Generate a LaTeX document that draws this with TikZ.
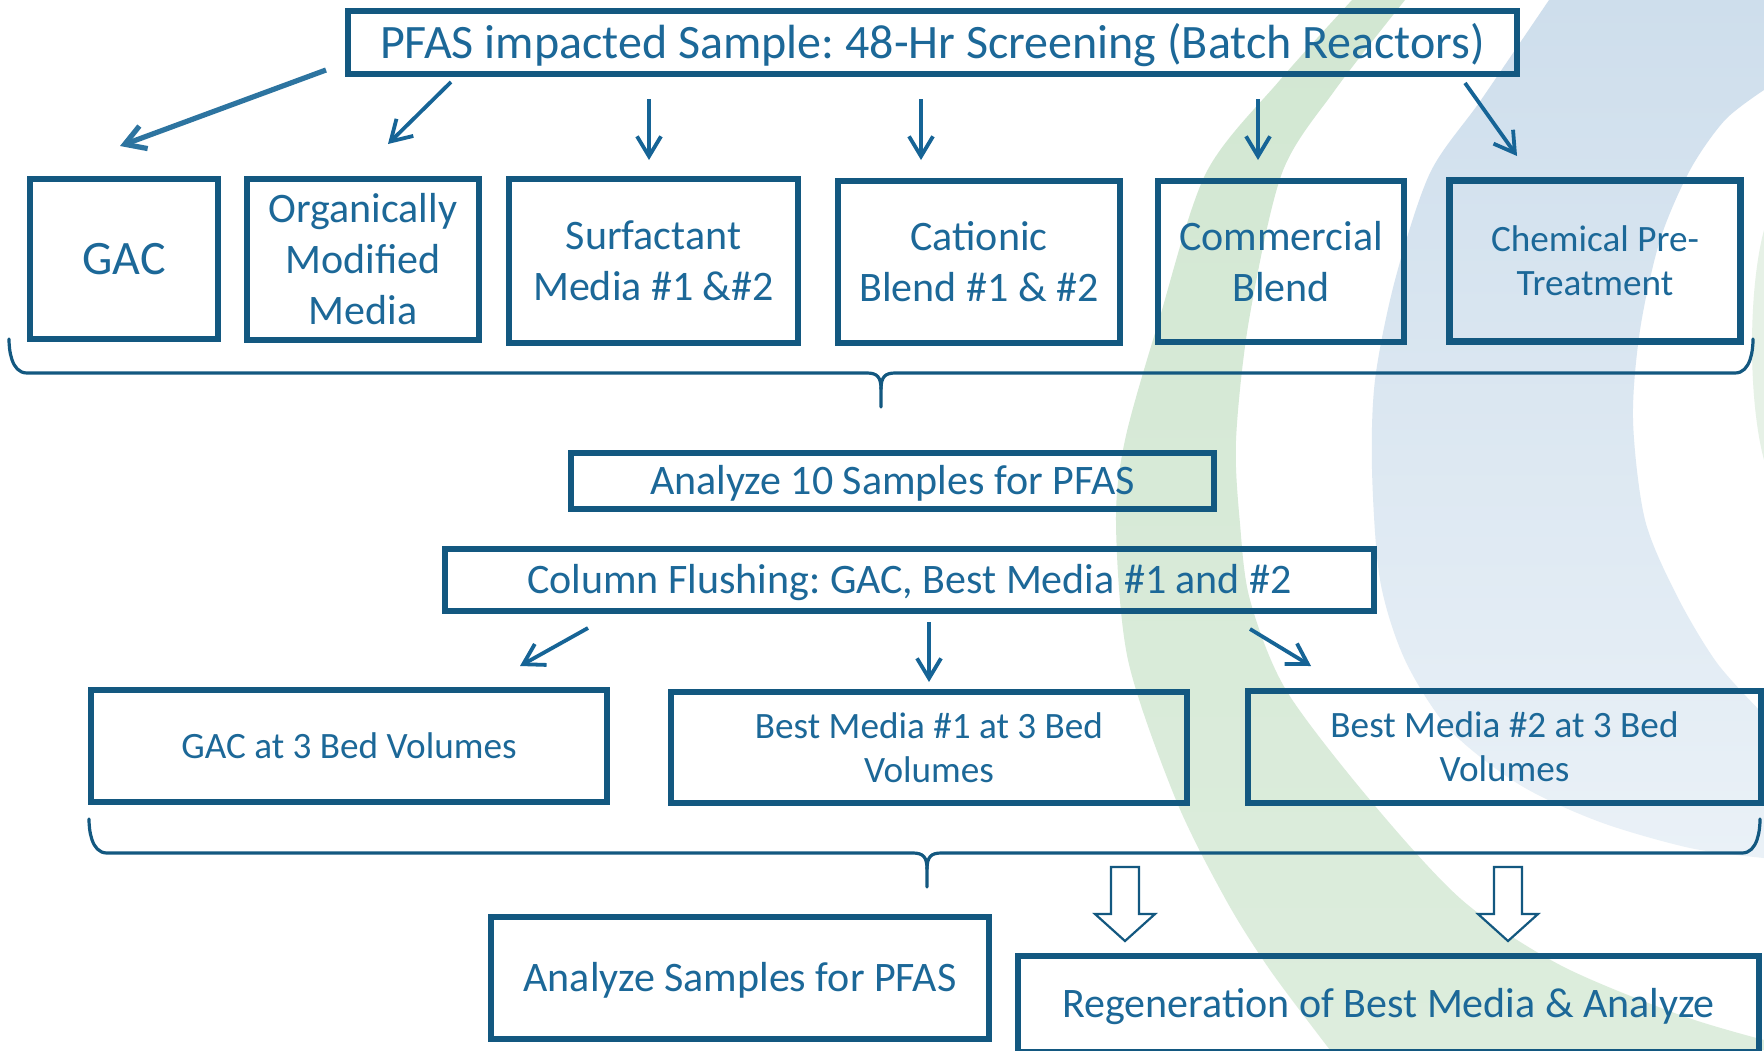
\documentclass[tikz,border=0pt]{standalone}
\usepackage{fontspec}
\setmainfont{Carlito}
\usetikzlibrary{arrows.meta}
\frenchspacing

\definecolor{boxblue}{RGB}{19,88,128}
\definecolor{txtblue}{RGB}{28,104,152}
\definecolor{arrblue}{RGB}{22,100,150}
\definecolor{ringgreenA}{RGB}{210,231,210}
\definecolor{ringgreenB}{RGB}{221,237,221}
\definecolor{ringblueA}{RGB}{206,222,236}
\definecolor{ringblueB}{RGB}{234,241,247}
\definecolor{ringgreenC}{RGB}{230,241,230}

% bracket with a downward tip: left x, right x, top y, line y, tip x, tip y
\newcommand\flowbrace[6]{%
  \draw[bracket] (#1,#3) .. controls (#1,#4-24) and (#1+2,#4) .. (#1+18,#4)
     -- (#5-14,#4) .. controls (#5-4,#4) and (#5,#4+4) .. (#5,#4+16) -- (#5,#6);
  \draw[bracket] (#2,#3) .. controls (#2,#4-24) and (#2-2,#4) .. (#2-18,#4)
     -- (#5+14,#4) .. controls (#5+4,#4) and (#5,#4+4) .. (#5,#4+16);
}

\begin{document}
\begin{tikzpicture}[x=0.5pt,y=-0.5pt,
  box/.style={draw=boxblue, line width=2.75pt, inner sep=0pt, outer sep=0pt,
              text=txtblue, align=center},
  bigtxt/.style={font=\fontsize{24pt}{29pt}\selectfont},
  midtxt/.style={font=\fontsize{21pt}{25.5pt}\selectfont},
  smalltxt/.style={font=\fontsize{18.6pt}{22pt}\selectfont},
  % single lines: centre the capitals in the box
  capbig/.style={text height=15.5pt, text depth=0pt},
  capmid/.style={text height=13.5pt, text depth=0pt},
  capsmall/.style={text height=12pt, text depth=0pt},
  flow/.style={draw=arrblue, line width=1.9pt,
               -{Straight Barb[length=10pt,width=12pt]}},
  bracket/.style={draw=boxblue, line width=1.6pt, line cap=round},
  hollow/.style={draw=boxblue, line width=1.1pt, fill=white, line join=miter},
  downarrow/.pic={\path[hollow] (-14,0) -- (14,0) -- (14,47) -- (30,47)
                   -- (0,74) -- (-30,47) -- (-14,47) -- cycle;}
]
\useasboundingbox (0,0) rectangle (1764,1050);
\clip (0,0) rectangle (1764,1050);
\fill[white] (0,0) rectangle (1764,1050);

% ---- background rings ----
\shade[top color=ringgreenA, bottom color=ringgreenB]
  plot[smooth] coordinates {(1352,0) (1280,80) (1206,173) (1159,320) (1125,440)
    (1116,524) (1128,660) (1176,800) (1226,900) (1270,970) (1330,1050)}
  -- (1764,1050)
  -- plot[smooth] coordinates {(1764,1040) (1680,1015) (1560,965) (1462,900)
    (1370,800) (1286,690) (1250,600) (1240,524) (1236,440) (1249,320)
    (1282,173) (1335,90) (1405,0)}
  -- cycle;
\shade[top color=ringblueA, bottom color=ringblueB]
  plot[smooth] coordinates {(1549,0) (1481,100) (1430,173) (1395,280) (1375,380)
    (1372,470) (1380,580) (1405,660) (1450,730) (1520,785) (1600,822)
    (1690,848) (1764,858)}
  -- plot[smooth] coordinates {(1764,715) (1717,663) (1677,596) (1645,520)
    (1633,420) (1640,330) (1660,240) (1690,170) (1725,120) (1764,90)}
  -- (1764,0) -- cycle;
\fill[ringgreenC] (1764,230) .. controls (1748,290) and (1748,400) .. (1764,460) -- cycle;

% ---- boxes ----
\node[box, bigtxt, capbig, minimum width=584.5pt, minimum height=31.5pt] (top) at (932.5,42.5)
  {PFAS impacted Sample: 48-Hr Screening (Batch Reactors)};

\node[box, bigtxt, capbig, minimum width=94pt, minimum height=80pt] (gac) at (124,259) {GAC};
\node[box, midtxt, minimum width=116pt, minimum height=80.5pt] (omm) at (363,259.5)
  {Organically\\Modified\\Media};
\node[box, midtxt, minimum width=144.5pt, minimum height=82pt] (surf) at (653.5,261)
  {Surfactant\\Media \#1 \&\#2};
\node[box, midtxt, minimum width=141pt, minimum height=81pt] (cat) at (979,262)
  {Cationic\\Blend \#1 \& \#2};
\node[box, midtxt, minimum width=123pt, minimum height=80.5pt] (comm) at (1281,261.5)
  {Commercial\\Blend};
\node[box, smalltxt, line width=3.1pt, minimum width=145.5pt, minimum height=80.5pt] (chem) at (1595,261)
  {Chemical Pre-\\Treatment};

\node[box, midtxt, capmid, minimum width=321.5pt, minimum height=28pt] (an10) at (892.5,481)
  {Analyze 10 Samples for PFAS};
\node[box, midtxt, capmid, minimum width=464.5pt, minimum height=31pt] (col) at (909.5,580)
  {Column Flushing: GAC, Best Media \#1 and \#2};

\node[box, smalltxt, capsmall, minimum width=258pt, minimum height=56pt] (gac3) at (349,746)
  {GAC at 3 Bed Volumes};
\node[box, smalltxt, minimum width=258pt, minimum height=55.5pt] (bm1) at (929,747.5)
  {Best Media \#1 at 3 Bed\\Volumes};
\node[box, smalltxt, minimum width=256.5pt, minimum height=56pt] (bm2) at (1504.5,747)
  {Best Media \#2 at 3 Bed\\Volumes};

\node[box, midtxt, capmid, minimum width=249pt, minimum height=61pt] (ans) at (740,978)
  {Analyze Samples for PFAS};
\node[box, midtxt, capmid, minimum width=370.5pt, minimum height=48pt] (regen) at (1388.5,1004)
  {Regeneration of Best Media \& Analyze};

% ---- arrow ends ----
\coordinate (a1s) at (326,70);   \coordinate (a1e) at (120,146);
\coordinate (a2s) at (451,82);   \coordinate (a2e) at (388,144);
\coordinate (a3s) at (649,99);   \coordinate (a3e) at (649,160);
\coordinate (a4s) at (921,99);   \coordinate (a4e) at (921,160);
\coordinate (a5s) at (1258,99);  \coordinate (a5e) at (1258,160);
\coordinate (a6s) at (1465,83);  \coordinate (a6e) at (1517,156);
\coordinate (b1s) at (588,628);  \coordinate (b1e) at (520,666);
\coordinate (b2s) at (929,622);  \coordinate (b2e) at (929,682);
\coordinate (b3s) at (1250,629); \coordinate (b3e) at (1311,666);

% ---- arrows from the screening box ----
\draw[flow, line width=2.6pt, draw=arrblue!90!white] (a1s) -- (a1e);
\draw[flow] (a2s) -- (a2e);
\draw[flow] (a3s) -- (a3e);
\draw[flow] (a4s) -- (a4e);
\draw[flow] (a5s) -- (a5e);
\draw[flow] (a6s) -- (a6e);

% ---- arrows from the flushing box ----
\draw[flow] (b1s) -- (b1e);
\draw[flow] (b2s) -- (b2e);
\draw[flow] (b3s) -- (b3e);

% ---- brackets ----
\flowbrace{9}{1753}{339}{373}{881}{407}
\flowbrace{89}{1760}{819}{853}{927}{887}

% ---- hollow arrows into the regeneration step ----
\pic at (1125,867) {downarrow};
\pic at (1508,867) {downarrow};
\end{tikzpicture}
\end{document}
